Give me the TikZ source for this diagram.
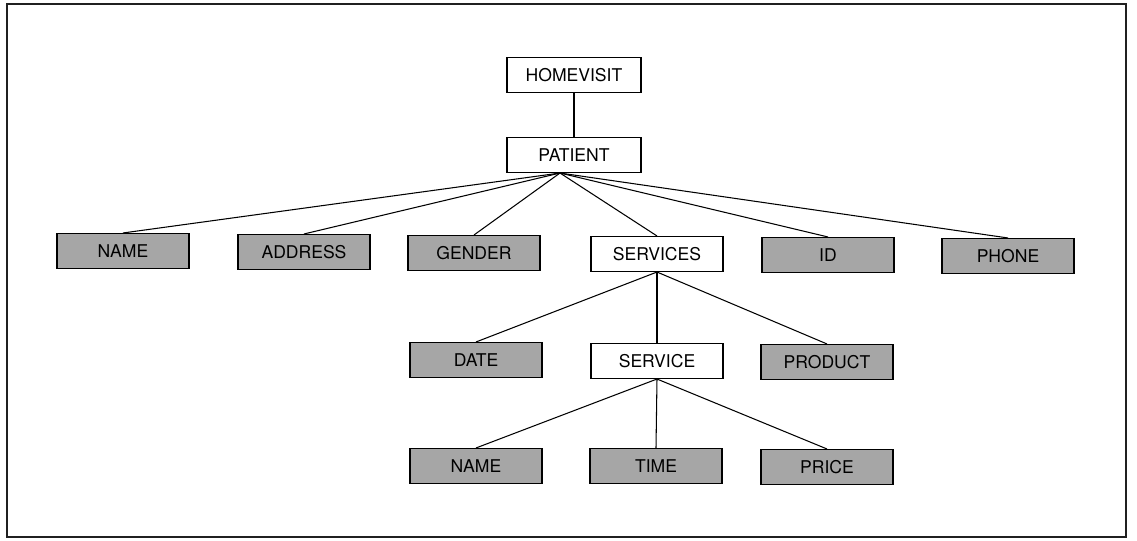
\documentclass[tikz,border=0pt]{standalone}
\usepackage{fontspec}
\setmainfont{TeX Gyre Heros}
\usepackage{xcolor}
\usepackage{tikz}
\definecolor{attrgray}{HTML}{A6A6A6}
\definecolor{framegray}{HTML}{202020}
\tikzset{
  link/.style={line width=0.6pt,black},
  entitynode/.style={draw=black,line width=0.6pt,fill=white,minimum width=2.68cm,minimum height=0.7cm,inner sep=0pt,font=\normalsize},
  attrnode/.style={draw=black,line width=0.6pt,fill=attrgray,minimum width=2.64cm,minimum height=0.7cm,inner sep=0pt,font=\normalsize}
}

\begin{document}
\begin{tikzpicture}[x=0.02cm,y=-0.02cm]
  \useasboundingbox (0,0) rectangle (1137,541);
  \draw[framegray,line width=1pt] (7,4) rectangle (1126,537);
  % top of the tree
  \node[entitynode] (homevisit) at (574,75) {HOMEVISIT};
  \node[entitynode] (patient) at (574,155) {PATIENT};
  \coordinate (pfan) at ([xshift=-0.28cm]patient.south);
  % first level
  \node[attrnode] (name) at (123,251) {NAME};
  \node[attrnode] (address) at (304,252) {ADDRESS};
  \node[attrnode] (gender) at (474,253) {GENDER};
  \node[entitynode,minimum width=2.64cm] (services) at (657,254) {SERVICES};
  \node[attrnode] (id) at (828,255) {ID};
  \node[attrnode] (phone) at (1008,256) {PHONE};
  % second level
  \node[attrnode] (date) at (476,360) {DATE};
  \node[entitynode,minimum width=2.64cm] (service) at (657,361) {SERVICE};
  \node[attrnode] (product) at (827,362) {PRODUCT};
  % third level
  \node[attrnode] (svcname) at (476,466) {NAME};
  \node[attrnode] (time) at (656,466) {TIME};
  \node[attrnode] (price) at (827,467) {PRICE};
  \draw[link] (homevisit) -- (patient);
  \foreach \n in {name,address,gender,services,id,phone} \draw[link] (pfan) -- (\n.north);
  \foreach \n in {date,service,product} \draw[link] (services.south) -- (\n.north);
  \foreach \n in {svcname,time,price} \draw[link] (service.south) -- (\n.north);
\end{tikzpicture}
\end{document}
